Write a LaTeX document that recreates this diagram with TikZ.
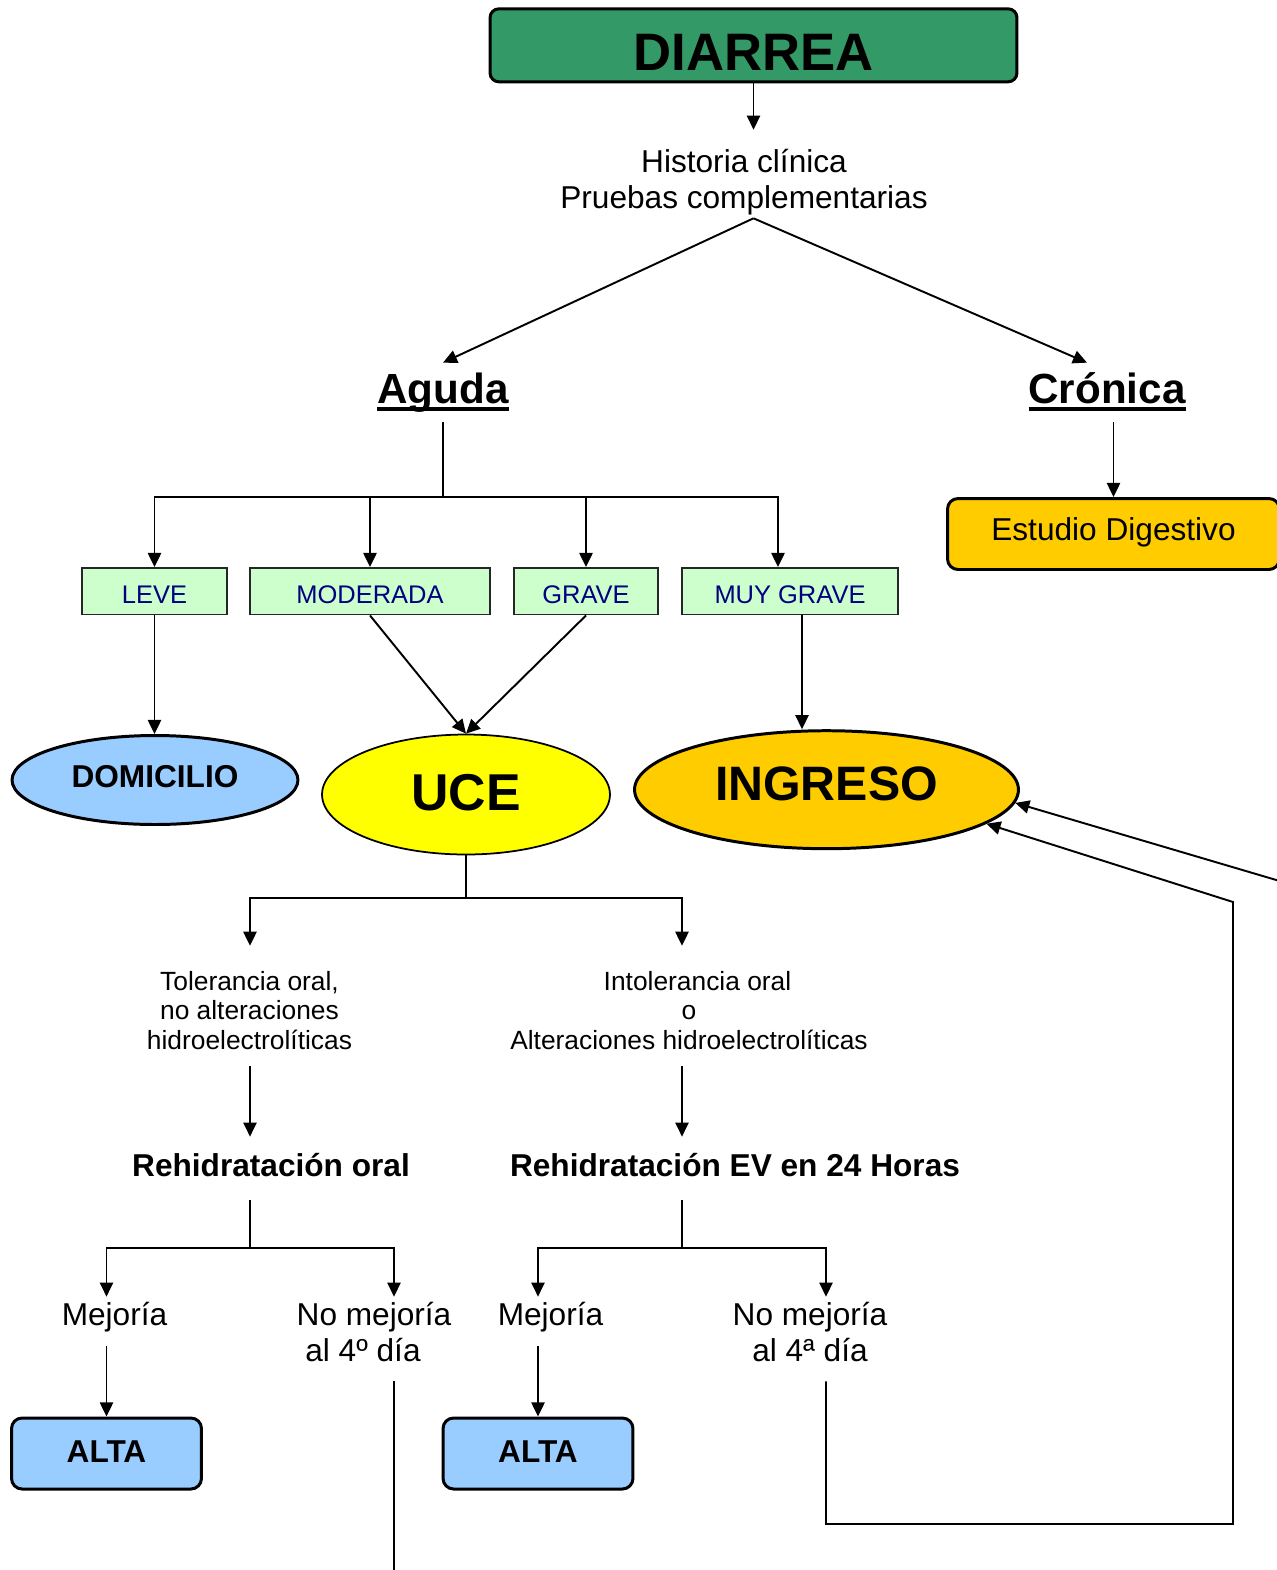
\documentclass[tikz,border=0pt]{standalone}
\usepackage{fontspec}
\setmainfont{Liberation Sans}
\usetikzlibrary{arrows.meta,positioning,calc,shapes.geometric}
\definecolor{diagreen}{HTML}{339966}
\definecolor{sevgreen}{HTML}{CCFFCC}
\definecolor{sevtext}{HTML}{000080}
\definecolor{amber}{HTML}{FFCC00}
\definecolor{skyblue}{HTML}{99CCFF}
\definecolor{uceyellow}{HTML}{FFFF00}
\newsavebox{\ulbox}
\newcommand{\thickul}[1]{\sbox{\ulbox}{#1}\rlap{\rule[-4.7pt]{\wd\ulbox}{2.3pt}}\usebox{\ulbox}}

\begin{document}
\begin{tikzpicture}[
    x=0.02cm, y=-0.02cm,
    arr/.style={-{Triangle[length=8pt,width=7.5pt]}, line width=1.1pt},
    lnk/.style={line width=1.1pt},
    sevbox/.style={draw=black!85, line width=1.1pt, fill=sevgreen, text=sevtext,
                   minimum height=0.93cm, inner sep=0pt, text height=0.7cm, text depth=0.23cm,
                   font=\fontsize{14.5}{17}\selectfont},
    endbox/.style={draw, line width=1.7pt, rounded corners=6pt, fill=skyblue,
                   minimum width=3.8cm, minimum height=1.42cm, inner sep=0pt,
                   text height=0.894cm, text depth=0.526cm,
                   font=\fontsize{18}{21}\selectfont\bfseries},
    place/.style={ellipse, draw, inner sep=0pt},
    txt/.style={align=center, inner sep=0pt, font=\fontsize{18}{21}\selectfont},
    smalltxt/.style={align=center, inner sep=0pt, font=\fontsize{15}{16.87}\selectfont},
    headword/.style={inner sep=0pt, text height=0.8cm, text depth=0.38cm,
                     font=\fontsize{24}{28}\selectfont\bfseries},
    boldline/.style={inner sep=0pt, text height=0.78cm, text depth=0.48cm,
                     font=\fontsize{18}{21}\selectfont\bfseries},
  ]
    \useasboundingbox (0,0) rectangle (1277,1570);

    % Top of the tree
    \node[draw, line width=1.7pt, rounded corners=5pt, fill=diagreen,
          minimum width=10.54cm, minimum height=1.46cm, inner sep=0pt,
          text height=1.238cm, text depth=0.222cm,
          font=\fontsize{30}{34}\selectfont\bfseries] (diarrea) at (753.5,45.3) {DIARREA};
    \node[txt] (hist) at (744,174)
      {\rule{0pt}{0.84cm}Historia clínica\\Pruebas complementarias\rule[-0.18cm]{0pt}{0pt}};
    \node[headword] (aguda) at (443,392.5) {\thickul{Aguda}};
    \node[headword] (cronica) at (1107,392.5) {\thickul{Crónica}};
    \node[draw, line width=1.7pt, rounded corners=6pt, fill=amber,
          minimum width=6.64cm, minimum height=1.42cm, inner sep=0pt,
          text height=0.844cm, text depth=0.576cm,
          font=\fontsize{18}{21}\selectfont] (estudio) at (1113.5,534) {Estudio Digestivo};

    % Severity boxes
    \node[sevbox, minimum width=2.9cm] (leve) at (154.5,591.25) {LEVE};
    \node[sevbox, minimum width=4.8cm] (moderada) at (370,591.25) {MODERADA};
    \node[sevbox, minimum width=2.88cm] (grave) at (586,591.25) {GRAVE};
    \node[sevbox, minimum width=4.32cm] (muygrave) at (790,591.25) {MUY GRAVE};

    % Where the patient goes
    \node[place, line width=1.7pt, fill=skyblue, minimum width=5.72cm, minimum height=1.78cm,
          text height=0.492cm, text depth=0.2cm,
          font=\fontsize{18}{21}\selectfont\bfseries] (domicilio) at (155,780) {DOMICILIO};
    \node[place, line width=1pt, fill=uceyellow, minimum width=5.76cm, minimum height=2.4cm,
          text height=0.92cm, text depth=0.3cm,
          font=\fontsize{29.5}{34}\selectfont\bfseries] (uce) at (466,794.5) {UCE};
    \node[place, line width=1.7pt, fill=amber, minimum width=7.68cm, minimum height=2.36cm,
          text height=0.75cm, text depth=0.3cm,
          font=\fontsize{27.5}{32}\selectfont\bfseries] (ingreso) at (826.5,789.7) {INGRESO};

    % UCE branches
    \node[smalltxt] (tol) at (249.5,1006)
      {\rule{0pt}{0.88cm}Tolerancia oral,\\no alteraciones\hspace*{0.26cm}\\hidroelectrolíticas\rule[-0.33cm]{0pt}{0pt}};
    \node[smalltxt] (intol) at (689,1006)
      {\rule{0pt}{0.88cm}\hspace*{0.34cm}Intolerancia oral\\o\\Alteraciones hidroelectrolíticas\rule[-0.33cm]{0pt}{0pt}};
    \node[boldline] (rehoral) at (271,1168.5) {Rehidratación oral};
    \node[boldline] (rehev) at (735,1168.5) {Rehidratación EV en 24 Horas};

    % Outcomes
    \node[txt, text height=0.56cm, text depth=0.42cm] (meja) at (114.5,1321.5) {Mejoría};
    \node[txt] (nomeja) at (374,1339)
      {\rule{0pt}{0.56cm}No mejoría\\al 4º día\hspace*{0.44cm}\rule[-0.38cm]{0pt}{0pt}};
    \node[txt, text height=0.56cm, text depth=0.42cm] (mejb) at (550.5,1321.5) {Mejoría};
    \node[txt] (nomejb) at (810,1339)
      {\rule{0pt}{0.56cm}No mejoría\\al 4ª día\rule[-0.38cm]{0pt}{0pt}};
    \node[endbox] (altaa) at (106.5,1453.5) {ALTA};
    \node[endbox] (altab) at (538,1453.5) {ALTA};

    % Junctions and bends
    \coordinate (ajunc) at (443,497);
    \coordinate (ujunc) at (466,898);
    \coordinate (ojunc) at (250,1248);
    \coordinate (ejunc) at (682,1248);
    \coordinate (offb) at (394,1600);
    \coordinate (retb) at (826,1524);
    \coordinate (retc) at (1233,1524);
    \coordinate (retd) at (1233,902);
    \coordinate (offr) at (1300,887);

    % Connectors
    \draw[arr] (diarrea.south) -- (diarrea.south |- hist.north);
    \draw[arr] (diarrea.south |- hist.south) -- (aguda.north);
    \draw[arr] (diarrea.south |- hist.south) -- ($(cronica.north)+(-20,0)$);
    \draw[lnk] (aguda) -- (ajunc);
    \draw[arr] (ajunc) -| (leve);
    \draw[arr] (ajunc) -| (moderada);
    \draw[arr] (ajunc) -| (grave);
    \draw[arr] (ajunc) -| ($(muygrave.north)+(-12,0)$);
    \draw[arr] (cronica.south -| estudio.north) -- (estudio.north);

    \draw[arr] (leve.south) -- (leve.south |- domicilio.north);
    \draw[arr] (moderada.south) -- (uce.north);
    \draw[arr] (grave.south) -- (uce.north);
    \draw[arr] ($(muygrave.south)+(12,0)$) -- ($(ingreso.north)+(-24.5,0)$);

    \draw[lnk] (uce) -- (ujunc);
    \draw[arr] (ujunc) -| (ojunc |- tol.north);
    \draw[arr] (ujunc) -| (ejunc |- intol.north);
    \draw[arr] (ojunc |- tol.south) -- (ojunc |- rehoral.north);
    \draw[arr] (ejunc |- intol.south) -- (ejunc |- rehev.north);
    \draw[lnk] (ojunc |- rehoral.south) -- (ojunc);
    \draw[lnk] (ejunc |- rehev.south) -- (ejunc);

    \draw[arr] (ojunc) -| (altaa.north |- meja.north);
    \draw[arr] (ojunc) -| (offb |- nomeja.north);
    \draw[arr] (altaa.north |- meja.south) -- (altaa);
    \draw[lnk] (offb |- nomeja.south) -- (offb);
    \draw[arr] (ejunc) -| (altab.north |- mejb.north);
    \draw[arr] (ejunc) -| (retb |- nomejb.north);
    \draw[arr] (altab.north |- mejb.south) -- (altab);

    % Back to INGRESO
    \draw[arr] (retb |- nomejb.south) -- (retb) -- (retc) -- (retd) -- (ingreso.-12);
    \draw[arr] (offr) -- (ingreso.-4);
\end{tikzpicture}
\end{document}
